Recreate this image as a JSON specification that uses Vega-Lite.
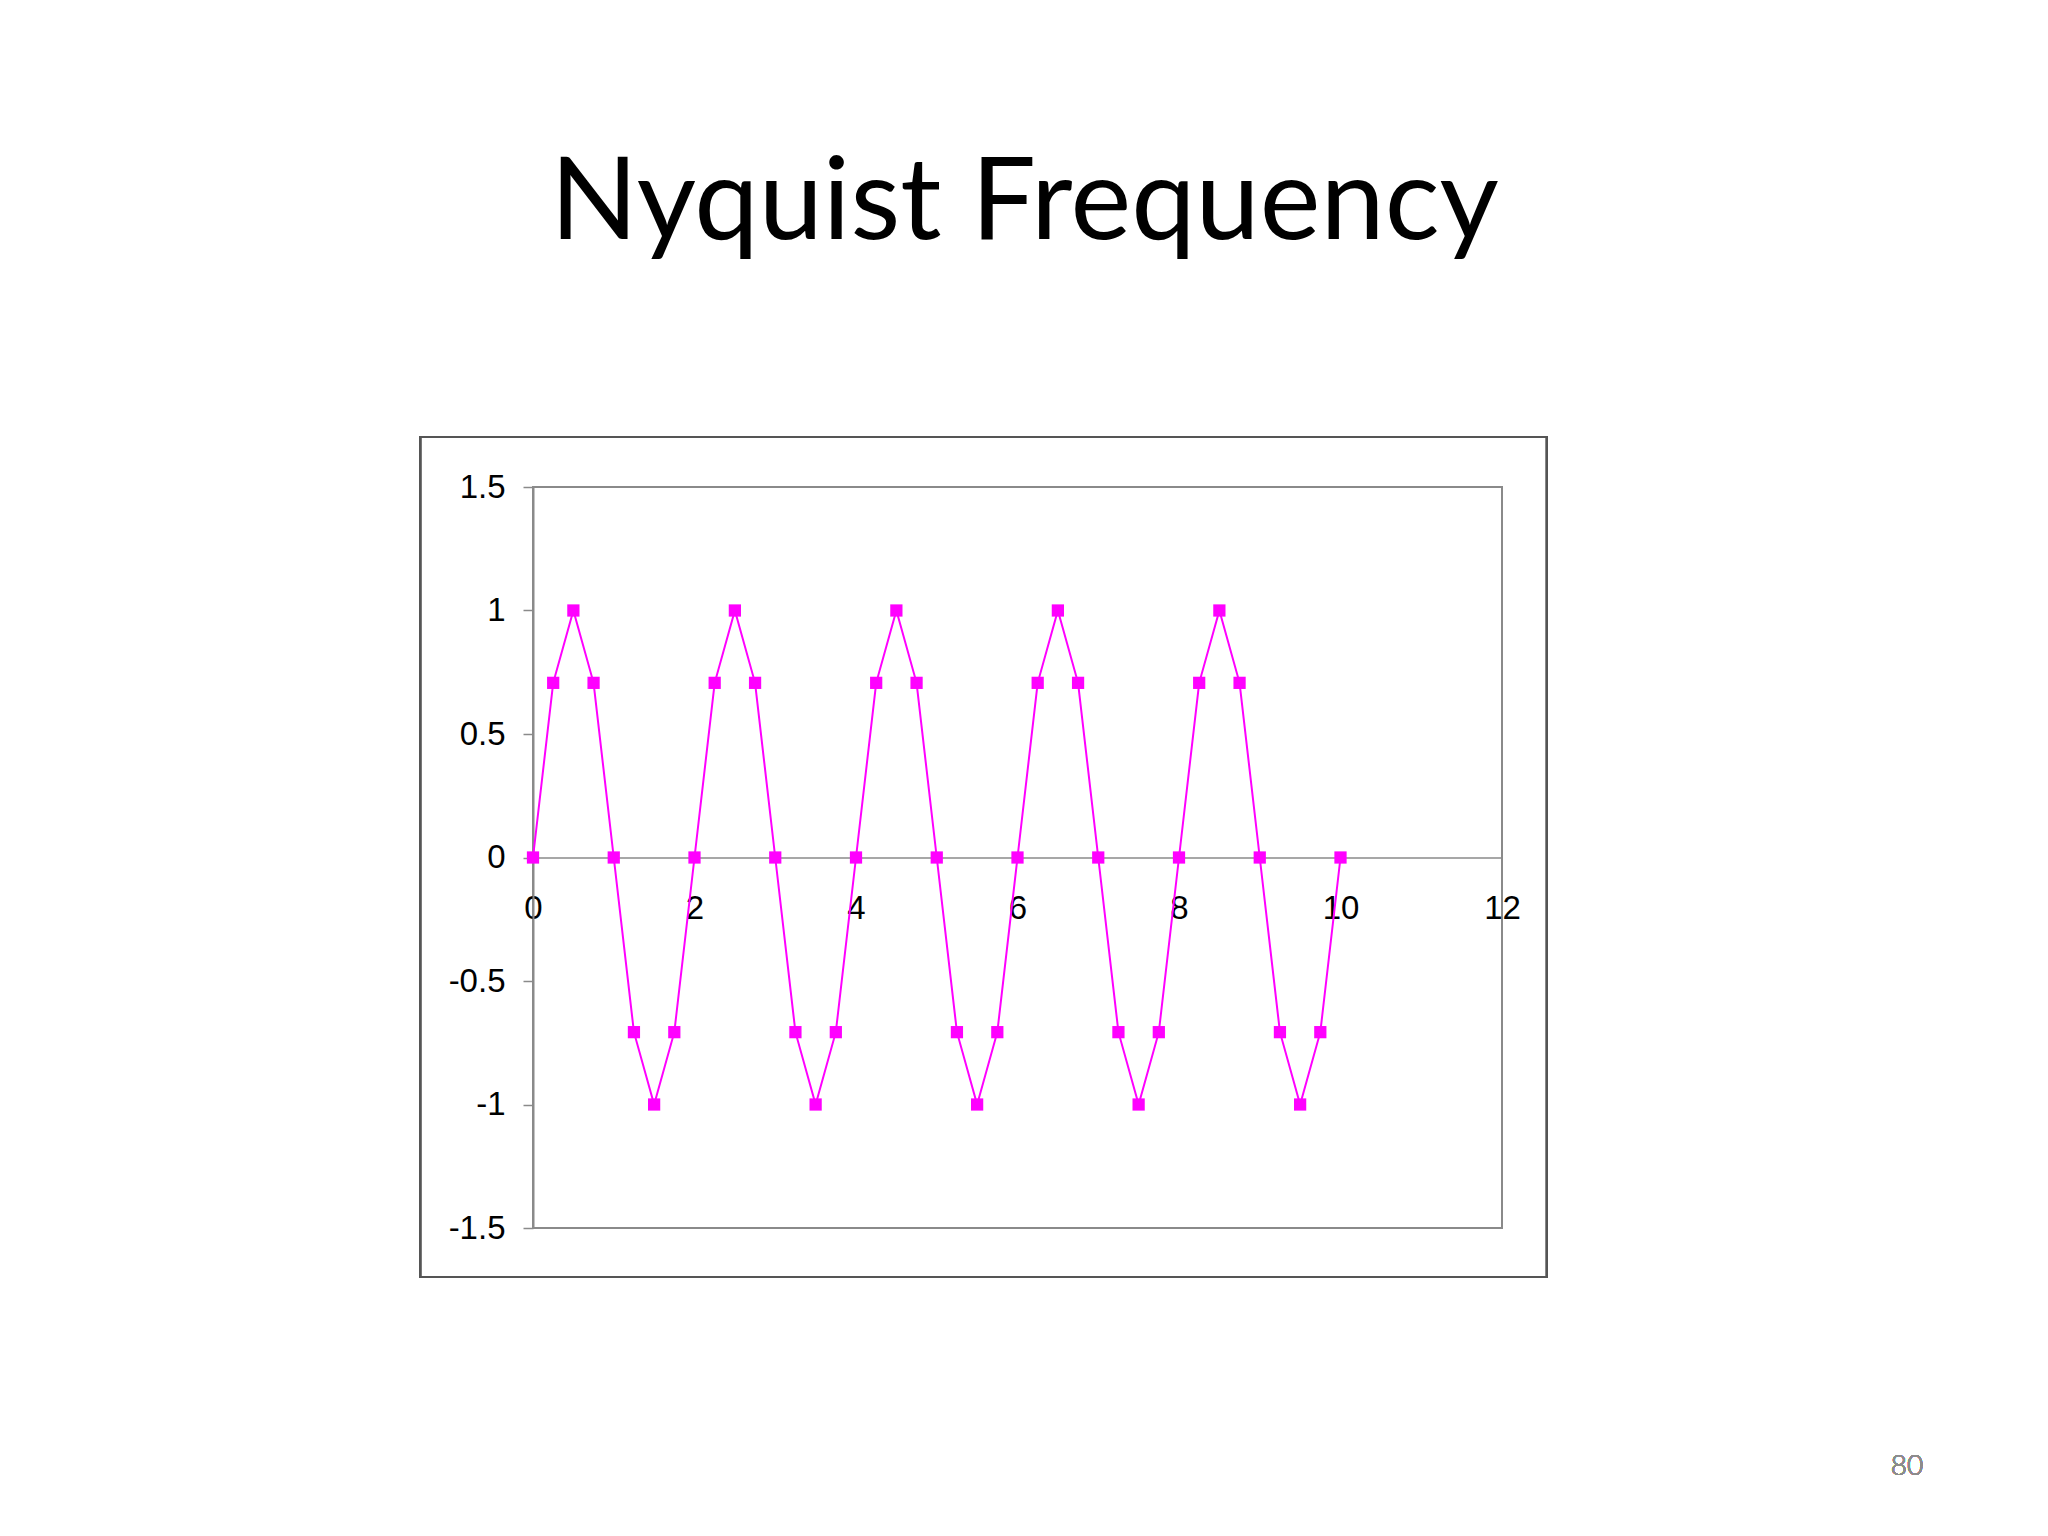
{
  "$schema": "https://vega.github.io/schema/vega-lite/v6.json",
  "autosize": {"type": "none"},
  "width": 969,
  "height": 741,
  "padding": {"left": 533, "top": 487, "right": 546, "bottom": 308},
  "background": "white",
  "title": {
    "text": "Nyquist Frequency",
    "font": "Lato",
    "fontSize": 115,
    "fontWeight": "normal",
    "color": "black",
    "frame": "group",
    "anchor": "middle",
    "baseline": "alphabetic",
    "offset": 82,
    "dx": 7
  },
  "config": {
    "view": {"stroke": "#8a8a8a", "strokeWidth": 2},
    "axis": {"labelFont": "Liberation Sans", "labelFontSize": 33, "labelColor": "black", "grid": false}
  },
  "data": {
    "values": [
      {"t": 0, "v": 0}, {"t": 0.25, "v": 0.7071}, {"t": 0.5, "v": 1}, {"t": 0.75, "v": 0.7071},
      {"t": 1, "v": 0}, {"t": 1.25, "v": -0.7071}, {"t": 1.5, "v": -1}, {"t": 1.75, "v": -0.7071},
      {"t": 2, "v": 0}, {"t": 2.25, "v": 0.7071}, {"t": 2.5, "v": 1}, {"t": 2.75, "v": 0.7071},
      {"t": 3, "v": 0}, {"t": 3.25, "v": -0.7071}, {"t": 3.5, "v": -1}, {"t": 3.75, "v": -0.7071},
      {"t": 4, "v": 0}, {"t": 4.25, "v": 0.7071}, {"t": 4.5, "v": 1}, {"t": 4.75, "v": 0.7071},
      {"t": 5, "v": 0}, {"t": 5.25, "v": -0.7071}, {"t": 5.5, "v": -1}, {"t": 5.75, "v": -0.7071},
      {"t": 6, "v": 0}, {"t": 6.25, "v": 0.7071}, {"t": 6.5, "v": 1}, {"t": 6.75, "v": 0.7071},
      {"t": 7, "v": 0}, {"t": 7.25, "v": -0.7071}, {"t": 7.5, "v": -1}, {"t": 7.75, "v": -0.7071},
      {"t": 8, "v": 0}, {"t": 8.25, "v": 0.7071}, {"t": 8.5, "v": 1}, {"t": 8.75, "v": 0.7071},
      {"t": 9, "v": 0}, {"t": 9.25, "v": -0.7071}, {"t": 9.5, "v": -1}, {"t": 9.75, "v": -0.7071},
      {"t": 10, "v": 0}
    ]
  },
  "encoding": {
    "x": {
      "field": "t",
      "type": "quantitative",
      "scale": {"domain": [0, 12], "nice": false, "zero": false},
      "axis": {
        "title": null,
        "values": [0, 2, 4, 6, 8, 10, 12],
        "offset": -370.5,
        "domainColor": "#8a8a8a",
        "domainWidth": 1.5,
        "ticks": false,
        "tickSize": 0,
        "labelPadding": 35,
        "labelBaseline": "top",
        "labelFlush": false
      }
    },
    "y": {
      "field": "v",
      "type": "quantitative",
      "scale": {"domain": [-1.5, 1.5], "nice": false, "zero": false},
      "axis": {
        "title": null,
        "values": [-1.5, -1, -0.5, 0, 0.5, 1, 1.5],
        "labelExpr": "replace(format(datum.value, '~g'), '\u2212', '-')",
        "domainColor": "#8a8a8a",
        "domainWidth": 2,
        "tickColor": "#8a8a8a",
        "tickSize": 10,
        "tickWidth": 1.5,
        "labelPadding": 18,
        "labelFlush": false
      }
    }
  },
  "layer": [
    {
      "mark": {"type": "rect", "fill": null, "stroke": "#555555", "strokeWidth": 2, "clip": false},
      "encoding": {
        "x": {"datum": -1.399},
        "x2": {"datum": 12.557},
        "y": {"datum": 1.702},
        "y2": {"datum": -1.698}
      }
    },
    {
      "mark": {"type": "line", "color": "#ff00ff", "strokeWidth": 2}
    },
    {
      "mark": {"type": "point", "shape": "square", "filled": true, "size": 150, "color": "#ff00ff", "opacity": 1}
    },
    {
      "mark": {"type": "text", "text": "80", "font": "Lato", "fontSize": 28, "fontWeight": 300, "color": "#8c8c8c", "clip": false},
      "encoding": {
        "x": {"datum": 17.015},
        "y": {"datum": -2.468}
      }
    }
  ]
}
